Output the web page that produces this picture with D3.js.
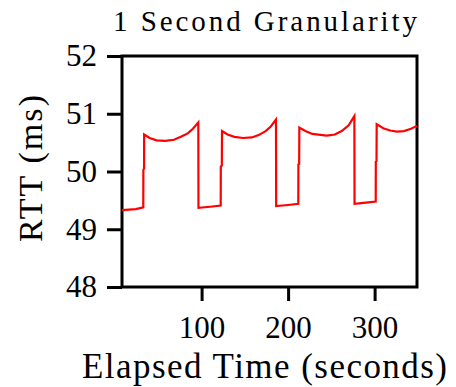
<!DOCTYPE html>
<head>
<meta charset="utf-8">
<script src="https://d3js.org/d3.v7.min.js"></script>
<style>
  body { margin: 0; background: #fff; }
  text { font-family: "Liberation Serif", "DejaVu Serif", serif; fill: #000; }
  .axis path, .axis line { stroke: #000; stroke-width: 3px; }
  .axis text { font-size: 31px; font-family: "Liberation Serif", serif; }
</style>
</head>
<body>
<svg width="456" height="387"></svg>
<script>
// RTT over time (seconds, ms)
var times = [8, 16, 24, 32.6, 32.7, 33.5, 33.6,
  40, 48, 58, 68, 76, 84, 90, 96.2,
  96.4, 110, 122.1, 122.2, 123.4, 123.6,
  130, 138, 148, 158, 166, 174, 180, 186,
  186.2, 200, 211.8, 211.9, 212.8, 213,
  220, 228, 244.6, 254, 262, 270, 276.6,
  276.8, 290, 301.3, 301.4, 302.2, 302.4,
  310, 318, 325.6, 334, 342, 349];
var rtt = [49.33, 49.34, 49.35, 49.38, 50.03, 50.05, 50.64,
  50.58, 50.54, 50.53, 50.55, 50.60, 50.66, 50.74, 50.85,
  49.37, 49.39, 49.41, 50.09, 50.10, 50.70,
  50.64, 50.60, 50.58, 50.59, 50.63, 50.70, 50.78, 50.90,
  49.40, 49.42, 49.44, 50.12, 50.13, 50.76,
  50.70, 50.65, 50.62, 50.64, 50.70, 50.80, 50.96,
  49.44, 49.46, 49.48, 50.17, 50.18, 50.82,
  50.75, 50.71, 50.69, 50.70, 50.74, 50.79];
var xTicks = [100, 200, 300];
var yTicks = [48, 49, 50, 51, 52];

var svg = d3.select("svg");
var pLeft = 122, pRight = 417, pTop = 56, pBottom = 287;

var x = d3.scaleLinear().domain([8, 349]).range([pLeft, pRight]);
var y = d3.scaleLinear().domain([48, 52]).range([pBottom, pTop]);

// frame
svg.append("rect")
    .attr("x", pLeft).attr("y", pTop)
    .attr("width", pRight - pLeft).attr("height", pBottom - pTop)
    .attr("fill", "none").attr("stroke", "#000").attr("stroke-width", 3);

svg.append("g")
    .attr("class", "axis")
    .attr("transform", "translate(" + pLeft + ",0)")
    .call(d3.axisLeft(y).tickValues(yTicks).tickFormat(d3.format("d"))
      .tickSize(15).tickSizeOuter(0).tickPadding(10))
    .call(function(g) { g.select(".domain").remove(); });

svg.append("g")
    .attr("class", "axis")
    .attr("transform", "translate(0," + pBottom + ")")
    .call(d3.axisBottom(x).tickValues(xTicks).tickFormat(d3.format("d"))
      .tickSize(14).tickSizeOuter(0).tickPadding(15))
    .call(function(g) { g.select(".domain").remove(); });

var pts = times.map(function(t, i) { return [t, rtt[i]]; });

svg.append("path")
    .datum(pts)
    .attr("fill", "none")
    .attr("stroke", "#ff0000")
    .attr("stroke-width", 2.2)
    .attr("d", d3.line().x(function(d) { return x(d[0]); }).y(function(d) { return y(d[1]); }));

svg.append("text")
    .attr("x", 265).attr("y", 31)
    .attr("text-anchor", "middle")
    .attr("textLength", 304).attr("lengthAdjust", "spacing")
    .style("font-size", "29px")
    .text("1 Second Granularity");

svg.append("text")
    .attr("x", 264.5).attr("y", 378)
    .attr("text-anchor", "middle")
    .attr("textLength", 365).attr("lengthAdjust", "spacing")
    .style("font-size", "35px")
    .text("Elapsed Time (seconds)");

svg.append("text")
    .attr("transform", "translate(42,168.5) rotate(-90)")
    .attr("text-anchor", "middle")
    .attr("textLength", 147).attr("lengthAdjust", "spacing")
    .style("font-size", "34px")
    .text("RTT (ms)");
</script>
</body>
</html>
